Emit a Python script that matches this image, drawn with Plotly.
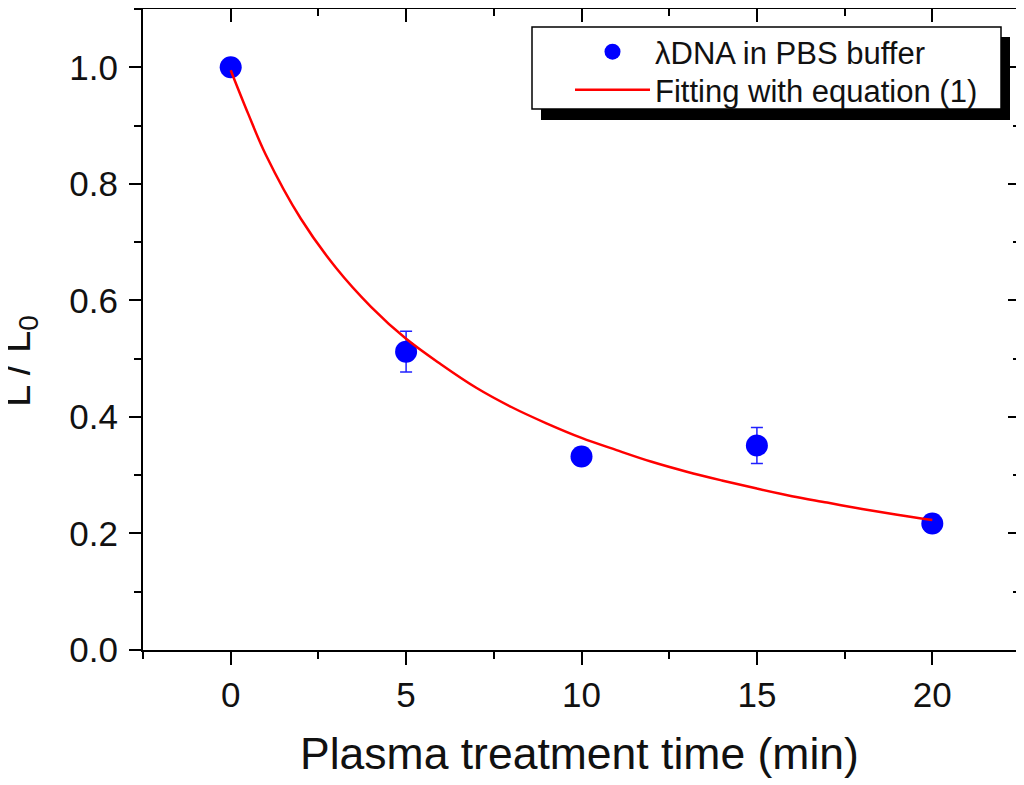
import plotly.graph_objects as go

# Measured data (L / L0 vs plasma treatment time)
time_min = [0, 5, 10, 15, 20]
ratio = [1.0, 0.512, 0.332, 0.351, 0.217]
ratio_err = [0.0, 0.035, 0.0, 0.031, 0.0]

# Fitted curve
fit_time = [0, 0.5, 1, 2, 3, 4, 5, 6, 7, 8, 9, 10, 11, 12, 13, 14, 15, 16, 17, 18, 19, 20]
fit_ratio = [0.995, 0.92, 0.85, 0.74, 0.656, 0.589, 0.534, 0.49, 0.45, 0.417, 0.389, 0.364,
             0.343, 0.323, 0.306, 0.291, 0.277, 0.264, 0.253, 0.242, 0.232, 0.223]

x_ticks = [0, 5, 10, 15, 20]
y_ticks = [0.0, 0.2, 0.4, 0.6, 0.8, 1.0]
y_tick_text = ["0.0", "0.2", "0.4", "0.6", "0.8", "1.0"]

FONT = "Arial, Liberation Sans, sans-serif"
OFF = 8  # default page body margin
W, H = 1024 - OFF, 785 - OFF
L, R, T, B = 135, 4, 1, 135
pw, ph = W - L - R, H - T - B


def px_x(p):
    return (p - OFF - L) / pw


def px_y(p):
    return (H - B - (p - OFF)) / ph


fig = go.Figure()
fig.add_trace(go.Scatter(
    x=time_min, y=ratio, mode="markers", name="\u03bbDNA in PBS buffer",
    marker=dict(symbol="circle", size=22, color="#0000ff", line=dict(width=0)),
    error_y=dict(type="data", array=ratio_err, visible=True, color="#2020ff",
                 thickness=1.5, width=6),
    legend="legend",
))
fig.add_trace(go.Scatter(
    x=fit_time, y=fit_ratio, mode="lines", name="Fitting with equation (1)",
    line=dict(color="#ff0000", width=2.5, shape="spline", smoothing=1.0),
    legend="legend2",
))
fig.add_trace(go.Scatter(x=[], y=[], xaxis="x2", yaxis="y2", showlegend=False,
                         hoverinfo="skip"))

axis_common = dict(showline=True, linecolor="black", linewidth=2, showgrid=False,
                   zeroline=False, ticks="outside", tickcolor="black", tickwidth=2,
                   automargin=False)

legend_common = dict(xanchor="left", yanchor="middle", bgcolor="rgba(0,0,0,0)",
                     borderwidth=0, font=dict(size=31, family=FONT, color="#111111"),
                     itemwidth=75)

fig.update_layout(
    width=W, height=H,
    margin=dict(l=L, r=R, t=T, b=B, autoexpand=False),
    paper_bgcolor="white", plot_bgcolor="white",
    font=dict(family=FONT, color="#111111"),
    xaxis=dict(range=[-2.5, 22.5], tickvals=x_ticks, ticklen=13,
               tickfont=dict(size=35),
               minor=dict(dtick=2.5, tick0=0, ticks="outside", ticklen=7,
                          tickwidth=2, tickcolor="black"),
               **axis_common),
    yaxis=dict(range=[0, 1.1], tickvals=y_ticks, ticktext=y_tick_text, ticklen=12,
               tickfont=dict(size=35), ticklabelstandoff=4,
               minor=dict(dtick=0.1, tick0=0, ticks="outside", ticklen=7,
                          tickwidth=2, tickcolor="black"),
               **axis_common),
    xaxis2=dict(range=[-2.5, 22.5], overlaying="x", side="top", anchor="y2",
                showline=True, linecolor="black", linewidth=2, showgrid=False,
                zeroline=False, showticklabels=False, tickvals=x_ticks,
                ticks="inside", ticklen=13, tickwidth=2, tickcolor="black",
                automargin=False,
                minor=dict(dtick=2.5, tick0=0, ticks="inside", ticklen=7,
                           tickwidth=2, tickcolor="black")),
    yaxis2=dict(range=[0, 1.1], overlaying="y", side="right", anchor="x2",
                showline=True, linecolor="black", linewidth=2, showgrid=False,
                zeroline=False, showticklabels=False, tickvals=y_ticks,
                ticks="inside", ticklen=12, tickwidth=2, tickcolor="black",
                automargin=False,
                minor=dict(dtick=0.1, tick0=0, ticks="inside", ticklen=7,
                           tickwidth=2, tickcolor="black")),
    legend=dict(x=px_x(570), y=px_y(52), **legend_common),
    legend2=dict(x=px_x(570), y=px_y(90), **legend_common),
    showlegend=True,
    annotations=[
        dict(text="L / L<sub>0</sub>", xref="paper", yref="paper",
             x=px_x(19), y=px_y(361), xanchor="center", yanchor="middle",
             textangle=-90, showarrow=False,
             font=dict(size=40, family=FONT, color="#111111")),
        dict(text="Plasma treatment time (min)", xref="paper", yref="paper",
             x=px_x(579), y=px_y(753), xanchor="center", yanchor="middle",
             showarrow=False,
             font=dict(size=44.5, family=FONT, color="#111111")),
    ],
    shapes=[
        dict(type="rect", xref="paper", yref="paper", layer="above",
             x0=px_x(541), x1=px_x(1010), y0=px_y(120), y1=px_y(37),
             fillcolor="black", line=dict(width=0)),
        dict(type="rect", xref="paper", yref="paper", layer="above",
             x0=px_x(532), x1=px_x(1001), y0=px_y(109), y1=px_y(27),
             fillcolor="white", line=dict(color="black", width=1.5)),
    ],
)

fig.write_html("out.html")
